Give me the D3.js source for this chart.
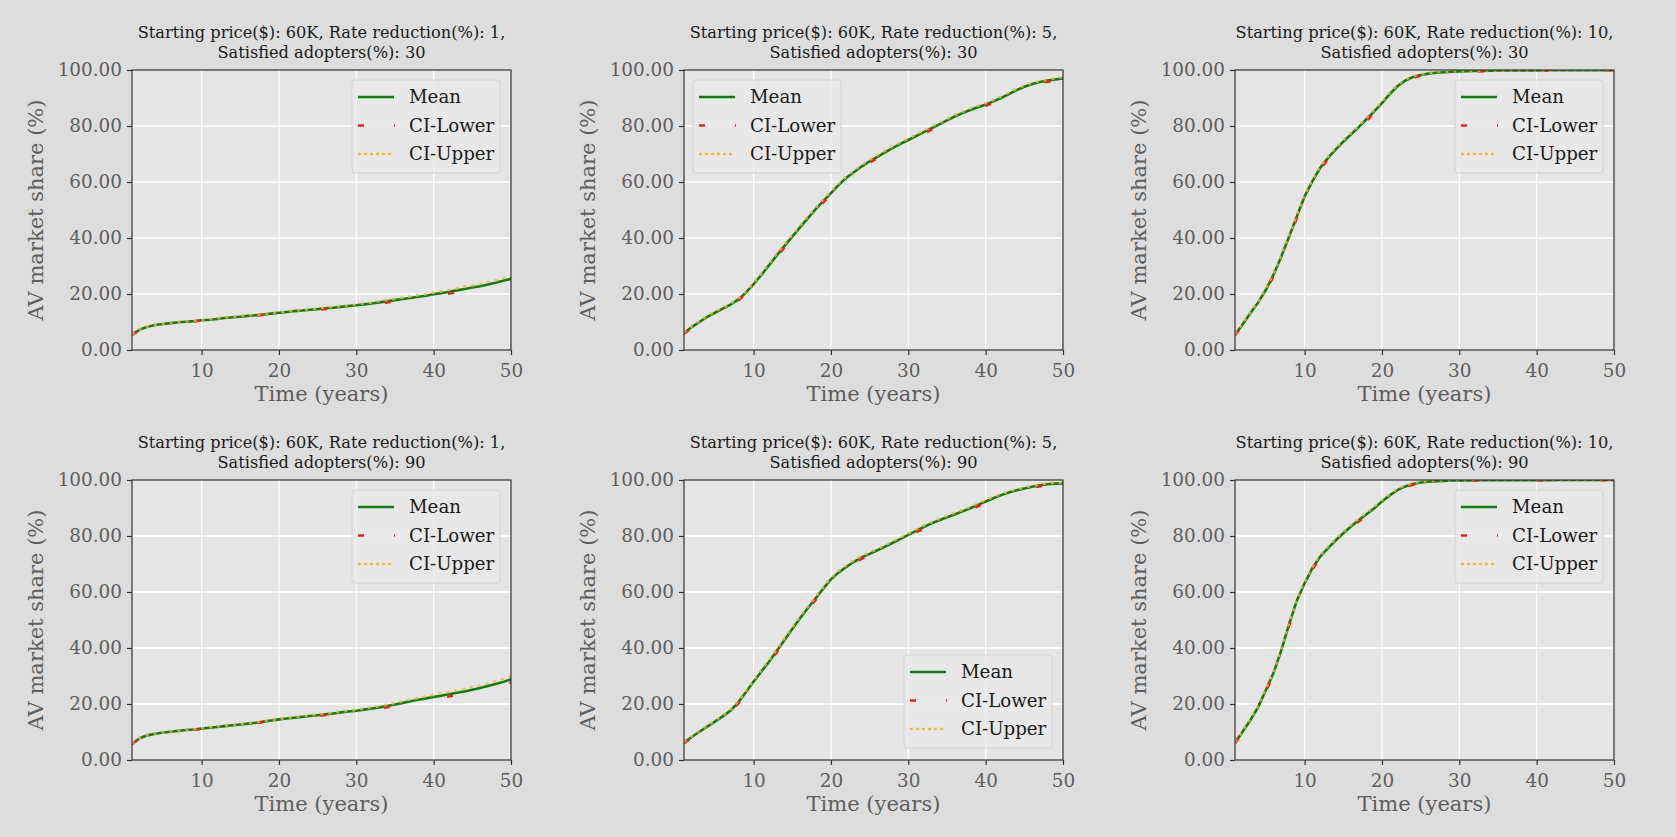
<!DOCTYPE html>
<html>
<head>
<meta charset="utf-8">
<script src="https://cdn.jsdelivr.net/npm/d3@7"></script>
<style>
  html, body { margin: 0; padding: 0; background: #dddddd; }
  svg { display: block; }
</style>
</head>
<body>
<svg id="chart" width="1676" height="837"></svg>
<script>
// ---------------- DATA ----------------
const years = [1,2,3,4,5,6,7,8,9,10,11,12,13,14,15,16,17,18,19,20,21,22,23,24,25,26,27,28,29,30,31,32,33,34,35,36,37,38,39,40,41,42,43,44,45,46,47,48,49,50];

const startingPrice = ["60K","60K","60K","60K","60K","60K"];
const rateReduction = [1, 5, 10, 1, 5, 10];
const satisfiedAdopters = [30, 30, 30, 90, 90, 90];
const seriesNames = ["Mean", "CI-Lower", "CI-Upper"];
const xTicks = [10, 20, 30, 40, 50];
const yTicks = [0, 20, 40, 60, 80, 100];

// Panel 1: rate 1, satisfied 30
const mean1  = [5.5,7.3,8.3,8.9,9.3,9.6,9.9,10.1,10.3,10.6,10.8,11.1,11.4,11.7,11.9,12.2,12.4,12.7,13.0,13.3,13.6,13.9,14.1,14.4,14.6,14.9,15.1,15.4,15.7,16.0,16.3,16.6,17.0,17.4,17.8,18.2,18.6,19.0,19.4,19.9,20.3,20.8,21.3,21.8,22.3,22.8,23.4,24.0,24.7,25.4];
const lower1 = [5.4,7.2,8.2,8.8,9.2,9.5,9.8,10.0,10.2,10.5,10.65,10.95,11.25,11.55,11.75,12.05,12.25,12.55,12.85,13.15,13.4,13.7,13.9,14.2,14.35,14.65,14.85,15.1,15.4,15.7,15.95,16.25,16.6,16.95,17.35,17.7,18.1,18.45,18.85,19.3,19.65,20.15,20.6,21.05,21.55,22.0,22.55,23.15,23.8,24.4];
const upper1 = [5.6,7.4,8.4,9.0,9.4,9.7,10.0,10.2,10.4,10.7,10.95,11.25,11.55,11.85,12.05,12.35,12.55,12.85,13.15,13.45,13.8,14.1,14.3,14.6,14.85,15.15,15.35,15.7,16.0,16.3,16.65,16.95,17.4,17.85,18.25,18.7,19.1,19.55,19.95,20.5,20.95,21.45,22.0,22.55,23.05,23.6,24.25,24.85,25.6,26.4];

// Panel 2: rate 5, satisfied 30
const mean2  = [6.0,8.2,10.0,11.8,13.3,14.8,16.2,18.0,20.5,23.5,26.8,30.3,33.8,37.2,40.5,43.8,47.0,50.2,53.2,56.0,59.0,61.5,63.6,65.6,67.4,69.0,70.6,72.2,73.6,75.0,76.4,77.8,79.2,80.6,82.0,83.4,84.6,85.7,86.7,87.7,88.8,90.0,91.4,92.8,94.0,95.0,95.7,96.2,96.6,97.0];
const lower2 = [5.8,7.9,9.7,11.5,13.0,14.5,15.9,17.6,20.1,23.1,26.3,29.8,33.3,36.7,40.0,43.3,46.5,49.7,52.7,55.5,58.5,61.0,63.1,65.1,66.9,68.5,70.1,71.7,73.1,74.5,75.9,77.3,78.7,80.1,81.5,82.9,84.1,85.2,86.2,87.2,88.3,89.5,90.9,92.3,93.6,94.6,95.3,95.8,96.2,96.6];
const upper2 = [6.2,8.5,10.3,12.1,13.6,15.1,16.5,18.4,20.9,23.9,27.3,30.8,34.3,37.7,41.0,44.3,47.5,50.7,53.7,56.5,59.5,62.0,64.1,66.1,67.9,69.5,71.1,72.7,74.1,75.5,76.9,78.3,79.7,81.1,82.5,83.9,85.1,86.2,87.2,88.2,89.3,90.5,91.9,93.3,94.4,95.4,96.1,96.6,97.0,97.4];

// Panel 3: rate 10, satisfied 30
const mean3  = [5.5,9.2,13.2,17.0,21.5,27.0,33.5,40.5,47.7,54.9,60.2,65.0,68.5,71.6,74.4,77.0,79.6,82.4,85.2,88.2,91.4,94.2,96.2,97.5,98.2,98.7,99.0,99.2,99.4,99.5,99.6,99.65,99.7,99.75,99.8,99.8,99.82,99.84,99.86,99.88,99.9,99.9,99.91,99.92,99.93,99.94,99.94,99.95,99.95,99.95];
const lower3 = [5.3,8.9,12.8,16.6,21.0,26.5,33.0,40.0,47.2,54.4,59.7,64.5,68.0,71.1,73.9,76.5,79.1,81.9,84.7,87.7,90.9,93.8,95.9,97.2,98.0,98.5,98.8,99.05,99.25,99.35,99.45,99.55,99.6,99.65,99.7,99.72,99.74,99.76,99.78,99.8,99.82,99.84,99.85,99.86,99.87,99.88,99.89,99.9,99.9,99.9];
const upper3 = [5.7,9.5,13.6,17.4,22.0,27.5,34.0,41.0,48.2,55.4,60.7,65.5,69.0,72.1,74.9,77.5,80.1,82.9,85.7,88.7,91.9,94.6,96.5,97.8,98.4,98.9,99.2,99.35,99.55,99.65,99.72,99.75,99.8,99.85,99.88,99.88,99.9,99.92,99.94,99.95,99.96,99.96,99.97,99.97,99.98,99.98,99.98,99.99,99.99,99.99];

// Panel 4: rate 1, satisfied 90
const mean4  = [5.8,7.8,8.8,9.4,9.8,10.1,10.4,10.7,10.9,11.2,11.5,11.8,12.1,12.4,12.7,13.0,13.3,13.7,14.1,14.5,14.8,15.1,15.4,15.7,16.0,16.3,16.6,17.0,17.3,17.6,18.0,18.4,18.8,19.3,19.8,20.4,21.0,21.5,22.0,22.5,23.0,23.5,24.0,24.5,25.1,25.7,26.4,27.1,27.9,28.8];
const lower4 = [5.7,7.7,8.7,9.3,9.7,10.0,10.3,10.6,10.8,11.1,11.35,11.65,11.95,12.25,12.55,12.85,13.15,13.55,13.95,14.35,14.6,14.9,15.2,15.5,15.75,16.05,16.35,16.7,17.0,17.3,17.65,18.0,18.4,18.85,19.3,19.85,20.4,20.85,21.3,21.75,22.2,22.7,23.15,23.6,24.15,24.75,25.4,26.05,26.8,27.7];
const upper4 = [5.9,7.9,8.9,9.5,9.9,10.2,10.5,10.8,11.0,11.3,11.65,11.95,12.25,12.55,12.85,13.15,13.45,13.85,14.25,14.65,15.0,15.3,15.6,15.9,16.25,16.55,16.85,17.3,17.6,17.9,18.35,18.8,19.2,19.75,20.3,20.95,21.6,22.15,22.7,23.25,23.8,24.3,24.85,25.4,26.05,26.65,27.4,28.15,29.0,29.9];

// Panel 5: rate 5, satisfied 90
const mean5  = [6.2,8.2,10.1,11.9,13.7,15.6,17.6,20.5,24.2,28.0,31.6,35.1,39.0,42.9,46.8,50.6,54.2,57.7,61.2,64.5,67.0,69.0,70.8,72.4,73.6,74.9,76.2,77.6,79.0,80.4,81.8,83.2,84.5,85.6,86.7,87.7,88.8,89.9,91.1,92.3,93.5,94.6,95.5,96.3,97.0,97.6,98.1,98.5,98.7,98.8];
const lower5 = [6.0,7.9,9.8,11.6,13.4,15.3,17.3,20.1,23.8,27.5,31.1,34.6,38.5,42.4,46.3,50.1,53.7,57.2,60.7,64.0,66.5,68.5,70.3,71.9,73.1,74.4,75.7,77.1,78.5,79.9,81.3,82.7,84.0,85.1,86.2,87.2,88.3,89.4,90.6,91.8,93.0,94.2,95.1,95.9,96.7,97.3,97.8,98.2,98.4,98.5];
const upper5 = [6.4,8.5,10.4,12.2,14.0,15.9,17.9,20.9,24.6,28.5,32.1,35.6,39.5,43.4,47.3,51.1,54.7,58.2,61.7,65.0,67.5,69.5,71.3,72.9,74.1,75.4,76.7,78.1,79.5,80.9,82.3,83.7,85.0,86.1,87.2,88.2,89.3,90.4,91.6,92.8,94.0,95.0,95.9,96.7,97.3,97.9,98.4,98.8,99.0,99.1];

// Panel 6: rate 10, satisfied 90
const mean6  = [6.2,10.2,14.3,19.0,25.0,31.2,39.3,48.5,57.0,63.1,68.5,72.6,75.6,78.4,81.0,83.4,85.7,87.8,89.9,92.3,94.5,96.4,97.7,98.6,99.1,99.4,99.6,99.7,99.8,99.85,99.88,99.9,99.92,99.93,99.94,99.95,99.95,99.96,99.96,99.97,99.97,99.97,99.98,99.98,99.98,99.98,99.99,99.99,99.99,99.99];
const lower6 = [6.0,9.9,13.9,18.6,24.5,30.7,38.8,48.0,56.5,62.6,68.0,72.1,75.1,77.9,80.5,82.9,85.2,87.3,89.4,91.8,94.1,96.0,97.4,98.3,98.9,99.2,99.45,99.55,99.65,99.72,99.76,99.8,99.82,99.84,99.86,99.88,99.88,99.9,99.9,99.91,99.92,99.92,99.93,99.93,99.94,99.94,99.95,99.95,99.95,99.95];
const upper6 = [6.4,10.5,14.7,19.4,25.5,31.7,39.8,49.0,57.5,63.6,69.0,73.1,76.1,78.9,81.5,83.9,86.2,88.3,90.4,92.8,94.9,96.8,98.0,98.9,99.3,99.6,99.75,99.85,99.9,99.95,99.97,99.98,99.99,100,100,100,100,100,100,100,100,100,100,100,100,100,100,100,100,100];

const panelMeans  = [mean1, mean2, mean3, mean4, mean5, mean6];
const panelLowers = [lower1, lower2, lower3, lower4, lower5, lower6];
const panelUppers = [upper1, upper2, upper3, upper4, upper5, upper6];

// ---------------- LAYOUT / STYLE ----------------
const colLefts = [132, 684, 1235];
const rowTops = [70, 480];
const plotW = 379, plotH = 280;
const legendCorner = ["ur", "ul", "ur", "ur", "lr", "ur"];
const FONT = "'DejaVu Serif', 'Liberation Serif', serif";
const colors = { mean: "#117c11", lower: "#e8231c", upper: "#f7b33a" };

const svg = d3.select("#chart");
svg.append("rect").attr("width", 1676).attr("height", 837).attr("fill", "#dddddd");

const defs = svg.append("defs");

panelMeans.forEach((meanArr, i) => {
  const col = i % 3, row = Math.floor(i / 3);
  const left = colLefts[col], top = rowTops[row];
  const g = svg.append("g").attr("transform", `translate(${left},${top})`);

  const x = d3.scaleLinear().domain([1, 50]).range([0, plotW]);
  const y = d3.scaleLinear().domain([0, 100]).range([plotH, 0]);

  // background
  g.append("rect").attr("width", plotW).attr("height", plotH).attr("fill", "#e5e5e5");

  // grid
  g.append("g").selectAll("line").data(xTicks.slice(0, 4)).join("line")
    .attr("x1", d => x(d)).attr("x2", d => x(d)).attr("y1", 0).attr("y2", plotH)
    .attr("stroke", "#ffffff").attr("stroke-width", 1.3);
  g.append("g").selectAll("line").data(yTicks.slice(1, 5)).join("line")
    .attr("y1", d => y(d)).attr("y2", d => y(d)).attr("x1", 0).attr("x2", plotW)
    .attr("stroke", "#ffffff").attr("stroke-width", 1.3);

  // clip
  const clipId = "clip" + i;
  defs.append("clipPath").attr("id", clipId).append("rect")
    .attr("width", plotW).attr("height", plotH);

  const line = d3.line().x((d, k) => x(years[k])).y(d => y(d));
  const lines = g.append("g").attr("clip-path", `url(#${clipId})`);
  lines.append("path").datum(meanArr).attr("d", line).attr("fill", "none")
    .attr("stroke", colors.mean).attr("stroke-width", 2.6);
  lines.append("path").datum(panelLowers[i]).attr("d", line).attr("fill", "none")
    .attr("stroke", colors.lower).attr("stroke-width", 2.6).attr("stroke-dasharray", "6,58");
  lines.append("path").datum(panelUppers[i]).attr("d", line).attr("fill", "none")
    .attr("stroke", colors.upper).attr("stroke-width", 2.6).attr("stroke-dasharray", "3,5")
    .attr("opacity", 0.8);

  // frame
  g.append("rect").attr("width", plotW).attr("height", plotH).attr("fill", "none")
    .attr("stroke", "#333333").attr("stroke-width", 1.2);

  // axes
  const xAxis = d3.axisBottom(x).tickValues(xTicks).tickSize(5).tickPadding(9).tickFormat(d3.format("d"));
  const yAxis = d3.axisLeft(y).tickValues(yTicks).tickSize(5).tickPadding(5).tickFormat(d3.format(".2f"));
  const gx = g.append("g").attr("transform", `translate(0,${plotH})`).call(xAxis);
  const gy = g.append("g").call(yAxis);
  [gx, gy].forEach(ax => {
    ax.select(".domain").remove();
    ax.selectAll(".tick line").attr("stroke", "#333333").attr("stroke-width", 1.2);
    ax.selectAll(".tick text").attr("fill", "#5e5e5e").style("font-family", FONT).style("font-size", "18.4px");
  });

  // axis labels
  g.append("text").attr("x", plotW / 2).attr("y", plotH + 51).attr("text-anchor", "middle")
    .attr("fill", "#5e5e5e").style("font-family", FONT).style("font-size", "21px").text("Time (years)");
  g.append("text").attr("transform", `translate(-89,${plotH / 2}) rotate(-90)`).attr("text-anchor", "middle")
    .attr("fill", "#5e5e5e").style("font-family", FONT).style("font-size", "21px").text("AV market share (%)");

  // title
  const title = g.append("text").attr("text-anchor", "middle").attr("fill", "#1a1a1a")
    .style("font-family", FONT).style("font-size", "16.2px");
  title.append("tspan").attr("x", plotW / 2).attr("y", -32.5)
    .text(`Starting price($): ${startingPrice[i]}, Rate reduction(%): ${rateReduction[i]},`);
  title.append("tspan").attr("x", plotW / 2).attr("y", -12)
    .text(`Satisfied adopters(%): ${satisfiedAdopters[i]}`);

  // legend
  const lw = 148, lh = 93;
  let lx, ly;
  if (legendCorner[i] === "ur") { lx = plotW - 11 - lw; ly = 10; }
  else if (legendCorner[i] === "ul") { lx = 9; ly = 10; }
  else { lx = plotW - 11 - lw; ly = plotH - 12 - lh; }
  const lg = g.append("g").attr("transform", `translate(${lx},${ly})`);
  lg.append("rect").attr("width", lw).attr("height", lh).attr("rx", 3)
    .attr("fill", "#e9e9e9").attr("fill-opacity", 0.85).attr("stroke", "#d4d4d4").attr("stroke-width", 1);
  const styles = [
    { c: colors.mean, w: 2.6, dash: null, x2: 42 },
    { c: colors.lower, w: 2.6, dash: "6,30", x2: 43 },
    { c: colors.upper, w: 2.4, dash: "3,3", x2: 42 }
  ];
  seriesNames.forEach((name, k) => {
    const yy = 17 + k * 28.5;
    const l = lg.append("line").attr("x1", 6).attr("x2", styles[k].x2).attr("y1", yy).attr("y2", yy)
      .attr("stroke", styles[k].c).attr("stroke-width", styles[k].w);
    if (styles[k].dash) l.attr("stroke-dasharray", styles[k].dash);
    lg.append("text").attr("x", 57).attr("y", yy).attr("dy", "0.35em")
      .attr("fill", "#1a1a1a").style("font-family", FONT).style("font-size", "18.2px").text(name);
  });
});
</script>
</body>
</html>
